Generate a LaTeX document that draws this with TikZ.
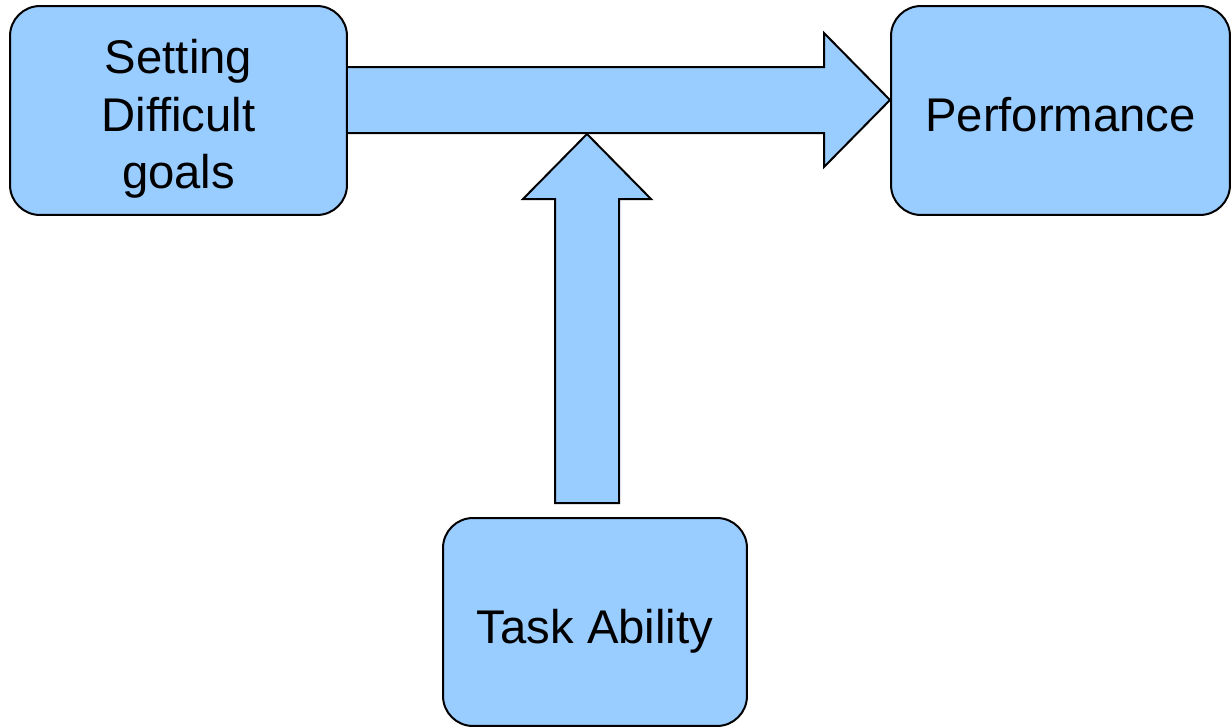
\documentclass[tikz,border=0pt]{standalone}
\usepackage{fontspec}
\setmainfont{Liberation Sans}
\usetikzlibrary{calc,backgrounds}
\definecolor{boxblue}{HTML}{99CCFF}
\tikzset{
	goalbox/.style={draw=black, fill=boxblue, line width=0.04cm, rounded corners=0.6cm, align=center, inner sep=0pt, font=\fontsize{26.9}{33}\selectfont},
	blockarrow/.style={draw=black, fill=boxblue, line width=0.04cm, line join=miter}
}

\begin{document}
\begin{tikzpicture}[x=0.02cm, y=-0.02cm]
			%%%%% START %%%%%
			\useasboundingbox (0, 0) rectangle (1231, 727);
			
			\coordinate (hTip) at (890, 100);
			\coordinate (vTip) at (587, 134);
			\coordinate (vBase) at (587, 503);
			
			\node[goalbox, minimum width=6.74cm, text height=3.66cm, text depth=0.52cm] (goals) at (178.5, 110.5) {Setting\\Difficult\\goals};
			\node[goalbox, minimum width=6.78cm, text height=2.52cm, text depth=1.66cm] (perf) at (1060.5, 110.5) {Performance};
			\node[goalbox, minimum width=6.08cm, text height=2.50cm, text depth=1.66cm] (ability) at (595, 622) {Task Ability};
			
			\begin{pgfonlayer}{background}
			% goals -> performance
			\draw[blockarrow] ($(goals.east |- hTip)+(-10, -33)$) -- ($(hTip)+(-66, -33)$) -- ($(hTip)+(-66, -67)$) -- (hTip)
				-- ($(hTip)+(-66, 67)$) -- ($(hTip)+(-66, 33)$) -- ($(goals.east |- hTip)+(-10, 33)$);
			
			% ability -> arrow
			\draw[blockarrow] ($(vBase)+(-32, 0)$) -- ($(vTip)+(-32, 65)$) -- ($(vTip)+(-64, 65)$) -- (vTip)
				-- ($(vTip)+(64, 65)$) -- ($(vTip)+(32, 65)$) -- ($(vBase)+(32, 0)$) -- cycle;
			\end{pgfonlayer}
			
			%%%%% END %%%%%
\end{tikzpicture}
\end{document}
